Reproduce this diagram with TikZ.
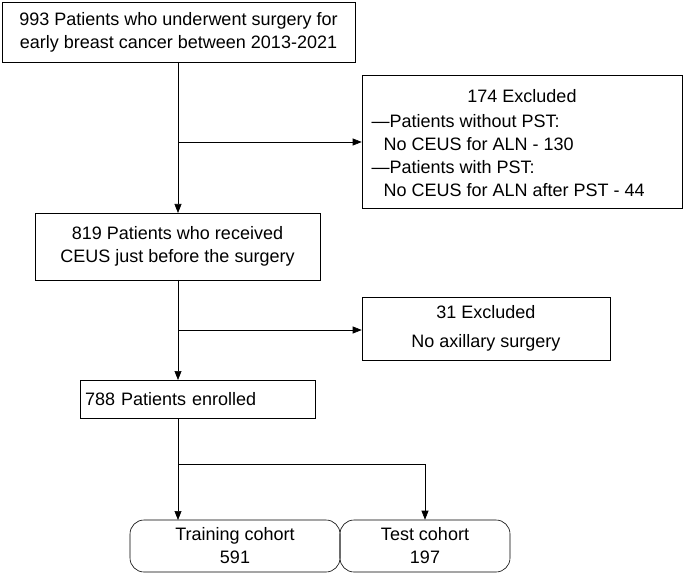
\documentclass[tikz,border=0pt]{standalone}
\usepackage{fontspec}
\setmainfont{Liberation Sans}
\usetikzlibrary{arrows.meta,positioning}
\begin{document}
\begin{tikzpicture}[
    x = 1pt, y = -1pt, % pixel grid
    > = {Triangle[length=9pt,width=7pt]},
    semithick,
    font = \fontsize{18}{23}\selectfont
    ]
    \tikzset{box/.style={draw, align=center, inner sep=0pt}}
    \tikzset{cohort/.style={box, rounded corners=14pt}}
    \useasboundingbox (0,0) rectangle (685,577);

    \node[box, minimum width=353pt, minimum height=60pt] (all) at (178.5,32) {993 Patients who underwent surgery for\\early breast cancer between 2013-2021};
    \node[box, minimum width=320pt, minimum height=133pt] (ex1) at (522,141.5) {};
    \node (ex1t) at (522,96) {174 Excluded};
    \node[anchor=west] at (368,121) {---Patients without PST:};
    \node[anchor=west] at (380,144) {No CEUS for ALN - 130};
    \node[anchor=west] at (368,167) {---Patients with PST:};
    \node[anchor=west] at (380,190) {No CEUS for ALN after PST - 44};
    \node[box, minimum width=285pt, minimum height=67pt] (ceus) at (177.5,246.5) {819 Patients who received\\CEUS just before the surgery};
    \node[box, minimum width=248pt, minimum height=63pt, align=center] (ex2) at (486,328.5) {31 Excluded\\[6pt]No axillary surgery};
    \node[box, minimum width=235pt, minimum height=38pt, text width=225pt, align=left] (enr) at (197.5,399) {788 Patients enrolled};
    \node[cohort, minimum width=210pt, minimum height=52pt] (train) at (235,546) {Training cohort\\591};
    \node[cohort, minimum width=170pt, minimum height=52pt] (test) at (425,546) {Test cohort\\197};

    \coordinate (b1) at (178,142);
    \coordinate (b2) at (178,330);
    \coordinate (b3) at (178,464);
    \draw[->] (178,62) -- (178,213);
    \draw[->] (b1) -- (ex1.west |- b1);
    \draw[->] (178,280) -- (178,380);
    \draw[->] (b2) -- (ex2.west |- b2);
    \draw[->] (178,418) -- (178,520);
    \draw[->] (b3) -| (test.north);
\end{tikzpicture}
\end{document}
